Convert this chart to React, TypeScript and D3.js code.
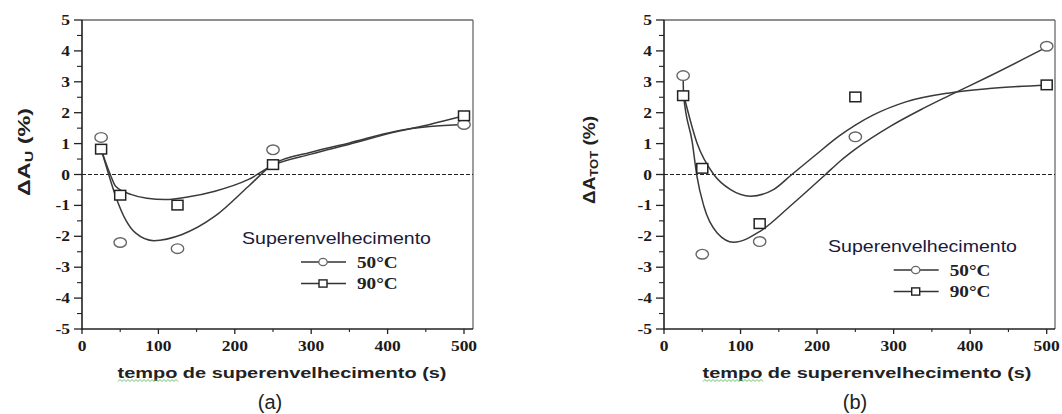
import React from "react";
import * as d3 from "d3";

// ---- data ----
const xTickValues = [0, 100, 200, 300, 400, 500];
const xMinorTicks = [50, 150, 250, 350, 450];
const yTickValues = [-5, -4, -3, -2, -1, 0, 1, 2, 3, 4, 5];
const yMinorTicks = [-4.5, -3.5, -2.5, -1.5, -0.5, 0.5, 1.5, 2.5, 3.5, 4.5];
const times = [25, 50, 125, 250, 500];

// panel (a): ΔA_U
const a50 = [1.2, -2.2, -2.4, 0.8, 1.62];
const a90 = [0.82, -0.67, -0.99, 0.32, 1.9];
const aFit50X = [25, 33, 44, 57, 70, 94, 131, 174, 218, 250, 300, 350, 411, 455, 500];
const aFit50Y = [0.82, 0.16, -0.7, -1.46, -1.89, -2.14, -1.94, -1.35, -0.38, 0.33, 0.72, 1.02, 1.4, 1.55, 1.62];
const aFit90X = [25, 37, 44, 65, 85, 109, 140, 174, 218, 250, 300, 350, 411, 455, 500];
const aFit90Y = [0.82, 0, -0.38, -0.65, -0.77, -0.81, -0.72, -0.54, -0.16, 0.3, 0.66, 0.98, 1.38, 1.62, 1.9];

// panel (b): ΔA_TOT
const b50 = [3.2, -2.58, -2.17, 1.22, 4.15];
const b90 = [2.55, 0.2, -1.59, 2.51, 2.9];
const bFit50X = [25, 25.5, 37, 43, 52, 69.5, 91, 126, 165, 211, 230, 250, 295, 338, 373, 425, 500];
const bFit50Y = [3.2, 2.6, 1.03, -0.05, -1.02, -1.89, -2.19, -1.83, -1.02, 0, 0.43, 0.82, 1.55, 2.13, 2.56, 3.18, 4.12];
const bFit90X = [25.5, 43, 65, 87, 113, 143, 167, 196, 229, 250, 273, 316, 373, 425, 500];
const bFit90Y = [2.6, 1.03, 0, -0.49, -0.7, -0.49, 0, 0.59, 1.25, 1.6, 1.92, 2.35, 2.64, 2.78, 2.9];

const legendTitle = "Superenvelhecimento";
const legendLabels = ["50°C", "90°C"];
const xTitle = "tempo de superenvelhecimento  (s)";

type PanelProps = {
  x0: number; x500: number; frameRight: number;
  s50: number[]; s90: number[];
  f50x: number[]; f50y: number[]; f90x: number[]; f90y: number[];
  sub: string; yLabelX: number; yLabelCy: number;
  legendX: number; legendY: number; legendSymX: number;
  titleCx: number; tag: string;
};

const SERIF = "'Liberation Serif', 'Times New Roman', serif";
const SANS = "'Liberation Sans', Arial, sans-serif";

function Panel(p: PanelProps) {
  const x = d3.scaleLinear().domain([0, 500]).range([p.x0, p.x500]);
  const y = d3.scaleLinear().domain([-5, 5]).range([329, 20]);
  const top = y(5);
  const bottom = y(-5);
  const line = d3
    .line<[number, number]>()
    .x((d) => x(d[0]))
    .y((d) => y(d[1]))
    .curve(d3.curveMonotoneX);
  const fit50 = p.f50x.map((v, i) => [v, p.f50y[i]] as [number, number]);
  const fit90 = p.f90x.map((v, i) => [v, p.f90y[i]] as [number, number]);
  const curveColor = "#3a3a3a";
  return (
    <g>
      {/* frame */}
      <line x1={p.x0} x2={p.frameRight} y1={top} y2={top} stroke="#6a6a6a" strokeWidth={1.3} />
      <line x1={p.frameRight} x2={p.frameRight} y1={top} y2={bottom} stroke="#6a6a6a" strokeWidth={1.3} />
      <line x1={p.x0} x2={p.x0} y1={top} y2={bottom + 1} stroke="#222" strokeWidth={1.6} />
      <line x1={p.x0} x2={p.frameRight} y1={bottom} y2={bottom} stroke="#222" strokeWidth={1.6} />
      {/* zero dashed */}
      <line x1={p.x0} x2={p.frameRight} y1={y(0)} y2={y(0)} stroke="#222" strokeWidth={1} strokeDasharray="4,2" />
      {/* y ticks */}
      {yTickValues.map((t) => (
        <g key={"yt" + t}>
          <line x1={p.x0 - 8} x2={p.x0} y1={y(t)} y2={y(t)} stroke="#222" strokeWidth={1.3} />
          <text
            transform={`translate(${p.x0 - 12},${y(t) + 5}) scale(1.25,1)`}
            textAnchor="end"
            fontFamily={SERIF}
            fontWeight="bold"
            fontSize={14}
            fill="#1a1a1a"
          >
            {t}
          </text>
        </g>
      ))}
      {yMinorTicks.map((t) => (
        <line key={"ym" + t} x1={p.x0 - 5} x2={p.x0} y1={y(t)} y2={y(t)} stroke="#222" strokeWidth={1.1} />
      ))}
      {/* x ticks */}
      {xTickValues.map((t) => (
        <g key={"xt" + t}>
          <line x1={x(t)} x2={x(t)} y1={bottom} y2={bottom + 5} stroke="#222" strokeWidth={1.3} />
          <text
            transform={`translate(${x(t)},${bottom + 22}) scale(1.25,1)`}
            textAnchor="middle"
            fontFamily={SERIF}
            fontWeight="bold"
            fontSize={14}
            fill="#1a1a1a"
          >
            {t}
          </text>
        </g>
      ))}
      {xMinorTicks.map((t) => (
        <line key={"xm" + t} x1={x(t)} x2={x(t)} y1={bottom} y2={bottom + 3} stroke="#222" strokeWidth={1.1} />
      ))}
      {/* fitted curves */}
      <path d={line(fit50) || ""} fill="none" stroke={curveColor} strokeWidth={1.5} />
      <path d={line(fit90) || ""} fill="none" stroke={curveColor} strokeWidth={1.5} />
      {/* markers */}
      {times.map((t, i) => (
        <ellipse key={"c" + i} cx={x(t)} cy={y(p.s50[i])} rx={6.2} ry={4.8} fill="white" stroke="#666" strokeWidth={1.4} />
      ))}
      {times.map((t, i) => (
        <rect key={"s" + i} x={x(t) - 5.5} y={y(p.s90[i]) - 4.8} width={11} height={9.6} fill="white" stroke="#222" strokeWidth={1.5} />
      ))}
      {/* y label */}
      <text
        transform={`translate(${p.yLabelX},${p.yLabelCy}) rotate(-90)`}
        textAnchor="middle"
        fontFamily={SANS}
        fontWeight="bold"
        fontSize={16}
        fill="#222"
        textLength={88}
        lengthAdjust="spacingAndGlyphs"
      >
        <tspan>ΔA</tspan>
        <tspan fontSize={11} dy={3}>{p.sub}</tspan>
        <tspan dy={-3}> (%)</tspan>
      </text>
      {/* legend */}
      <text x={p.legendX} y={p.legendY} fontFamily={SANS} fontSize={17} fill="#1a1a3a" textLength={189} lengthAdjust="spacingAndGlyphs">
        {legendTitle}
      </text>
      {legendLabels.map((lab, i) => {
        const ly = p.legendY + 18 + i * 21.5;
        return (
          <g key={"lg" + i}>
            <line x1={p.legendSymX - 22} x2={p.legendSymX + 23} y1={ly} y2={ly} stroke="#333" strokeWidth={1.5} />
            {i === 0 ? (
              <ellipse cx={p.legendSymX} cy={ly} rx={4.2} ry={3.6} fill="white" stroke="#666" strokeWidth={1.3} />
            ) : (
              <rect x={p.legendSymX - 4} y={ly - 3.6} width={8} height={7.2} fill="white" stroke="#222" strokeWidth={1.4} />
            )}
            <text
              transform={`translate(${p.legendSymX + 34},${ly + 5.5}) scale(1.2,1)`}
              fontFamily={SERIF}
              fontWeight="bold"
              fontSize={16}
              fill="#222"
            >
              {lab}
            </text>
          </g>
        );
      })}
      {/* x title */}
      <text
        x={p.titleCx}
        y={378}
        textAnchor="middle"
        fontFamily={SANS}
        fontWeight="bold"
        fontSize={15}
        fill="#222"
        textLength={329}
        lengthAdjust="spacingAndGlyphs"
      >
        {xTitle}
      </text>
      <path
        d={d3.range(0, 61, 2).map((d, i) => `${i === 0 ? "M" : "L"}${p.titleCx - 164 + d},${380.5 + (i % 2 === 0 ? 1 : -1)}`).join("")}
        fill="none"
        stroke="#5cb85c"
        strokeWidth={0.9}
      />
      <text x={p.titleCx - 12} y={409} textAnchor="middle" fontFamily={SANS} fontSize={20} fill="#222">
        {p.tag}
      </text>
    </g>
  );
}

export default function App() {
  return (
    <svg
      width={1062}
      height={414}
      style={{ position: "absolute", left: 0, top: 0, background: "white" }}
    >
      <rect width={1062} height={414} fill="white" />
      <Panel
        x0={82} x500={464} frameRight={473}
        s50={a50} s90={a90}
        f50x={aFit50X} f50y={aFit50Y} f90x={aFit90X} f90y={aFit90Y}
        sub="U" yLabelX={30} yLabelCy={152}
        legendX={242} legendY={244} legendSymX={323}
        titleCx={282} tag="(a)"
      />
      <Panel
        x0={664} x500={1046.7} frameRight={1055}
        s50={b50} s90={b90}
        f50x={bFit50X} f50y={bFit50Y} f90x={bFit90X} f90y={bFit90Y}
        sub="TOT" yLabelX={595} yLabelCy={160}
        legendX={828} legendY={252} legendSymX={915.7}
        titleCx={867} tag="(b)"
      />
    </svg>
  );
}
